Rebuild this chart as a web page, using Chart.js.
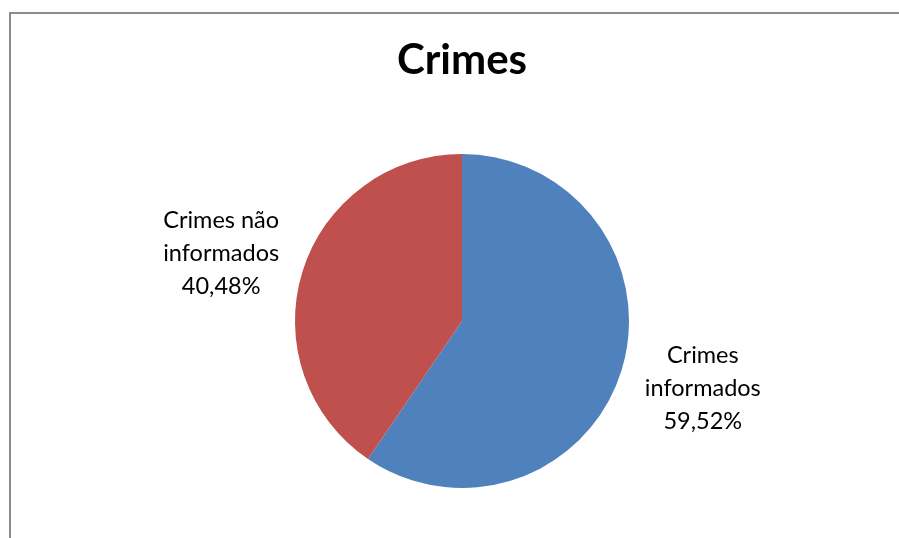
<!DOCTYPE html>
<html>
<head>
<meta charset="utf-8">
<script src="https://cdn.jsdelivr.net/npm/chart.js@4"></script>
<style>
  body { margin: 0; background: #fff; }
  #wrap { position: relative; width: 899px; height: 538px; overflow: hidden; }
  #frame { position: absolute; left: 9px; top: 12px; width: 1000px; height: 1000px;
           border-left: 2px solid #8c8c8c; border-top: 2px solid #8c8c8c; }
  canvas { position: absolute; left: 0; top: 0; }
</style>
</head>
<body>
<div id="wrap">
  <div id="frame"></div>
  <canvas id="myChart" width="899" height="538"></canvas>
</div>
<script>
const titleText = 'Crimes'
const categories = ['Crimes informados', 'Crimes não informados']
const labelLines = [['Crimes', 'informados'], ['Crimes não', 'informados']]
const values = [59.52, 40.48]
const colors = ['#4f81bd', '#c0504d']

const fontFamily = "Lato, 'Open Sans', sans-serif"

// draws the outside labels at each slice's mid angle
const outsideLabels = {
    id: 'outsideLabels',
    afterDatasetsDraw(chart) {
        const ctx = chart.ctx
        const meta = chart.getDatasetMeta(0)
        ctx.save()
        ctx.font = '23.5px ' + fontFamily
        ctx.fillStyle = '#000'
        ctx.textAlign = 'center'
        ctx.textBaseline = 'middle'
        meta.data.forEach((arc, i) => {
            const p = arc.getProps(['x', 'y', 'startAngle', 'endAngle', 'outerRadius'], true)
            const mid = (p.startAngle + p.endAngle) / 2
            const cx = p.x + Math.cos(mid) * (p.outerRadius + 85)
            const cy = p.y + Math.sin(mid) * (p.outerRadius + 63)
            const pct = values[i].toFixed(2).replace('.', ',') + '%'
            const lines = labelLines[i].concat([pct])
            lines.forEach((t, k) => {
                ctx.fillText(t, cx, cy + (k - 1) * 33)
            })
        })
        ctx.restore()
    }
}

const config = {
    type: 'pie',
    data: {
        labels: categories,
        datasets: [{
            data: values,
            backgroundColor: colors,
            borderWidth: 0
        }]
    },
    options: {
        responsive: false,
        animation: false,
        layout: {
            padding: { top: 35, bottom: 50, left: 25, right: 0 }
        },
        plugins: {
            legend: { display: false },
            tooltip: { enabled: false },
            title: {
                display: true,
                text: titleText,
                color: '#000',
                padding: { top: 0, bottom: 68.6 },
                font: { family: fontFamily, size: 42, weight: 'bold' }
            }
        }
    },
    plugins: [outsideLabels]
}

var myChart = new Chart(document.getElementById('myChart'), config)
</script>
</body>
</html>
